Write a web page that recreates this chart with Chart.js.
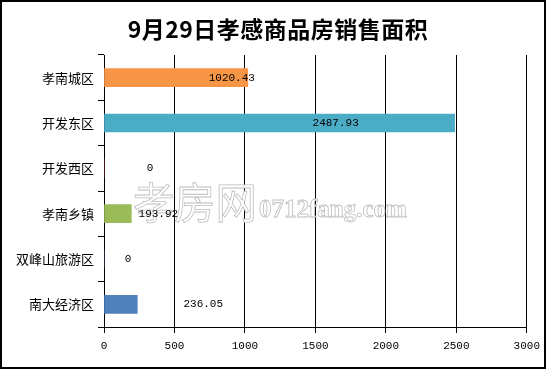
<!DOCTYPE html>
<html>
<head>
<meta charset="utf-8">
<script src="https://cdn.jsdelivr.net/npm/chart.js@4/dist/chart.umd.min.js"></script>
<style>
  html, body { margin: 0; padding: 0; background: #fff; }
  #wrap { width: 546px; height: 369px; }
</style>
</head>
<body>
<div id="wrap"><canvas id="areaChart" width="546" height="369"></canvas></div>
<script>
const titleText = '9月29日孝感商品房销售面积';
const districts = ['孝南城区', '开发东区', '开发西区', '孝南乡镇', '双峰山旅游区', '南大经济区'];
const salesArea = [1020.43, 2487.93, 0, 193.92, 0, 236.05];
const xTicks = [0, 500, 1000, 1500, 2000, 2500, 3000];

// styling, kept apart from the data
const barColors = ['#F79646', '#4BACC6', '#C0504D', '#9BBB59', '#8064A2', '#4F81BD'];
const labelShift = [-16, -119, 46, 27, 24, 66]; // where each value label was dragged to, px from bar end
const monoFont = '"Liberation Mono", "DejaVu Sans Mono", monospace';
const cjkFont = '"Noto Sans CJK SC", "Noto Sans", sans-serif';

const framePlugin = {
  id: 'frame',
  beforeDraw(chart) {
    const ctx = chart.ctx;
    ctx.save();
    ctx.fillStyle = '#fff';
    ctx.fillRect(0, 0, chart.width, chart.height);
    ctx.restore();
  },
  afterDraw(chart) {
    const ctx = chart.ctx;
    ctx.save();
    ctx.strokeStyle = '#000';
    ctx.lineWidth = 2;
    ctx.strokeRect(1, 1, chart.width - 2, chart.height - 2);
    ctx.fillStyle = '#000';
    ctx.font = 'bold 23px ' + cjkFont;
    ctx.letterSpacing = '0.5px';
    ctx.textAlign = 'center';
    ctx.textBaseline = 'middle';
    ctx.fillText(titleText, 278, 29);
    ctx.restore();
  }
};

const labelPlugin = {
  id: 'valueLabels',
  afterDatasetsDraw(chart) {
    const ctx = chart.ctx;
    ctx.save();
    // watermark of the source site, outlined
    ctx.lineWidth = 0.8;
    ctx.strokeStyle = '#bdbdbd';
    ctx.fillStyle = '#fff';
    ctx.textAlign = 'left';
    ctx.save();
    ctx.translate(133, 203);
    ctx.scale(0.96, 1);
    ctx.textBaseline = 'middle';
    ctx.font = '43px ' + cjkFont;
    ctx.fillText('孝房网', 0, 0);
    ctx.strokeText('孝房网', 0, 0);
    ctx.restore();
    ctx.textBaseline = 'alphabetic';
    ctx.font = 'bold 25px "Liberation Serif", serif';
    ctx.fillText('0712fang.com', 259, 217);
    ctx.strokeText('0712fang.com', 259, 217);

    ctx.fillStyle = '#000';
    ctx.font = '11px ' + monoFont;
    ctx.textAlign = 'center';
    ctx.textBaseline = 'middle';
    chart.getDatasetMeta(0).data.forEach((bar, i) => {
      ctx.fillText(String(salesArea[i]), bar.x + labelShift[i], bar.y);
    });
    ctx.restore();
  }
};

new Chart(document.getElementById('areaChart'), {
  type: 'bar',
  data: {
    labels: districts,
    datasets: [{
      data: salesArea,
      backgroundColor: barColors,
      borderWidth: 0,
      barThickness: 18
    }]
  },
  options: {
    indexAxis: 'y',
    responsive: false,
    animation: false,
    layout: { padding: { top: 55, right: 19, left: 0, bottom: 0 } },
    plugins: { legend: { display: false }, tooltip: { enabled: false } },
    scales: {
      x: {
        min: xTicks[0],
        max: xTicks[xTicks.length - 1],
        afterBuildTicks: (scale) => { scale.ticks = xTicks.map((v) => ({ value: v })); },
        afterFit: (scale) => { scale.height = 42; },
        grid: { color: '#000', lineWidth: 1, tickLength: 6 },
        border: { color: '#000', width: 1 },
        ticks: {
          color: '#000', padding: 6, maxRotation: 0,
          font: { family: monoFont, size: 11 },
          callback: (v) => String(v)
        }
      },
      y: {
        afterFit: (scale) => { scale.width = 104; },
        grid: { offset: true, drawOnChartArea: false, color: '#000', tickLength: 6 },
        border: { color: '#000', width: 1 },
        ticks: { color: '#000', padding: 4, font: { family: cjkFont, size: 13 } }
      }
    }
  },
  plugins: [framePlugin, labelPlugin]
});
</script>
</body>
</html>
